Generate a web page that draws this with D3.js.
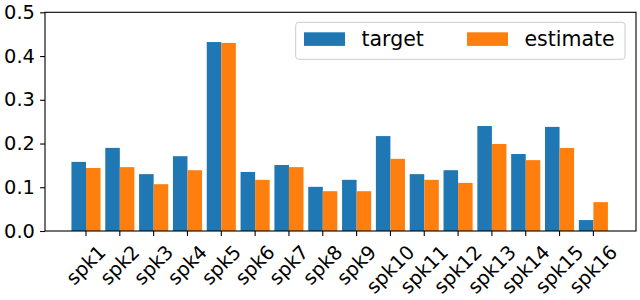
<!DOCTYPE html>
<html><head><meta charset="utf-8">
<script src="https://cdn.jsdelivr.net/npm/d3@7"></script>
<style>body{margin:0;background:#fff}svg{display:block}text{font-family:"DejaVu Sans",sans-serif}</style>
</head><body>
<svg id="c" width="640" height="300"></svg>
<script>
const categories = ["spk1","spk2","spk3","spk4","spk5","spk6","spk7","spk8","spk9","spk10","spk11","spk12","spk13","spk14","spk15","spk16"];
const target   = [0.158,0.190,0.130,0.171,0.432,0.135,0.151,0.101,0.117,0.217,0.130,0.139,0.240,0.176,0.238,0.025];
const estimate = [0.144,0.146,0.107,0.139,0.430,0.117,0.146,0.091,0.091,0.165,0.117,0.110,0.199,0.162,0.190,0.066];
const yTicks = [0,0.1,0.2,0.3,0.4,0.5];
const seriesNames = ["target","estimate"];
const colors = ["#1f77b4","#ff7f0e"];

const svg = d3.select("#c");
const L=45, R=636, T=12.3, B=231;
const x = d3.scaleLinear().domain([-1.212,16.26]).range([L,R]);
const y = d3.scaleLinear().domain([0,0.5]).range([B,T]);
const bw = 0.43;
const fs = 19.4;

const g = svg.append("g");
[target, estimate].forEach((vals, s) => {
  g.selectAll(null).data(vals).enter().append("rect")
    .attr("x", (d,i) => s===0 ? x(i-bw) : x(i))
    .attr("width", x(bw)-x(0))
    .attr("y", d => y(d))
    .attr("height", d => y(0)-y(d))
    .attr("fill", colors[s]);
});

// y axis
const ya = svg.append("g").attr("transform",`translate(${L},0)`)
  .call(d3.axisLeft(y).tickValues(yTicks).tickFormat(d3.format(".1f")).tickSize(4.9).tickPadding(5.2));
ya.select(".domain").remove();
ya.selectAll("text").attr("font-size",fs).attr("fill","#000").attr("font-family","DejaVu Sans");
ya.selectAll("line").attr("stroke","#000").attr("stroke-width",1.1);

// x axis ticks
const xa = svg.append("g");
categories.forEach((c,i)=>{
  xa.append("line").attr("x1",x(i)).attr("x2",x(i)).attr("y1",B).attr("y2",B+4.9).attr("stroke","#000").attr("stroke-width",1.1);
  const t = xa.append("text").text(c).attr("font-size",fs).attr("text-anchor","middle").attr("dominant-baseline","central").attr("fill","#000");
  const w = t.node().getComputedTextLength();
  const cy = 242 + (w+fs)*0.7071/2;
  t.attr("transform",`translate(${x(i)},${cy}) rotate(-45)`);
});

// frame
svg.append("rect").attr("x",L).attr("y",T).attr("width",R-L).attr("height",B-T)
  .attr("fill","none").attr("stroke","#000").attr("stroke-width",1.1);

// legend
const lg = svg.append("g");
lg.append("rect").attr("x",295.7).attr("y",22.3).attr("width",625-295.7).attr("height",59.3-22.3)
  .attr("rx",3).attr("fill","#fff").attr("fill-opacity",0.8).attr("stroke","#cccccc").attr("stroke-width",1);
const lx = [304, 467];
seriesNames.forEach((n,s)=>{
  lg.append("rect").attr("x",lx[s]).attr("y",32.3).attr("width",41).attr("height",13.6).attr("fill",colors[s]);
  lg.append("text").attr("x",lx[s]+57.5).attr("y",39.3).attr("dominant-baseline","central")
    .attr("font-size",20.5).attr("fill","#000").text(n);
});
</script>
</body></html>
